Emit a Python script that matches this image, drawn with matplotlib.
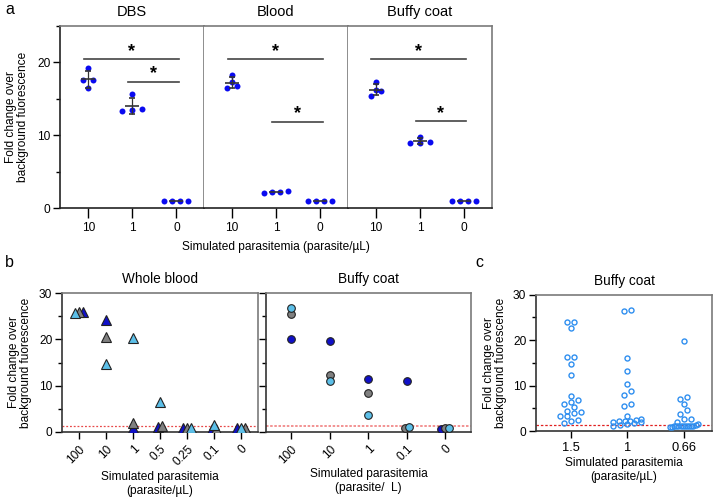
import numpy as np
import matplotlib
matplotlib.use('Agg')
import matplotlib.pyplot as plt
from matplotlib.ticker import MultipleLocator

plt.rcParams['font.family'] = ['Liberation Sans', 'DejaVu Sans']

# ---- data: panel a (4 replicates per condition)
a_titles = ['DBS', 'Blood', 'Buffy coat']
a_cats = ['10', '1', '0']
a_data = [
    [[19.2, 17.6, 17.5, 16.4], [15.6, 13.3, 13.6, 13.4], [0.9, 1.0, 0.95, 1.0]],
    [[18.2, 17.3, 16.5, 16.7], [2.1, 2.3, 2.2, 2.2], [0.9, 1.0, 1.0, 1.0]],
    [[17.3, 16.2, 15.4, 16.0], [9.8, 9.0, 8.9, 8.9], [0.95, 1.0, 0.95, 1.0]],
]
# significance bars: (from, to, height)
a_sig = [
    [(0, 2, 20.4), (1, 2, 17.3)],
    [(0, 2, 20.4), (1, 2, 11.8)],
    [(0, 2, 20.4), (1, 2, 11.9)],
]

# ---- data: panel b
wb_cats = ['100', '10', '1', '0.5', '0.25', '0.1', '0']
wb_blue = [26.0, 24.2, 0.9, 1.0, 0.8, 0.6, 0.8]
wb_gray = [25.9, 20.4, 2.0, 1.2, 0.9, 0.7, 0.9]
wb_light = [25.6, 14.6, 20.3, 6.5, 0.9, 1.6, 0.8]

bc_cats = ['100', '10', '1', '0.1', '0']
bc_blue = [20.0, 19.6, 11.4, 10.9, 0.6]
bc_gray = [25.4, 12.4, 8.4, 0.9, 0.8]
bc_light = [26.8, 11.1, 3.6, 1.0, 0.8]

threshold = 1.3

# ---- data: panel c
c_cats = ['1.5', '1', '0.66']
c_vals = [
    [23.9, 24.1, 22.7, 16.3, 16.3, 14.7, 12.4, 7.8, 6.8, 6.3, 6.0, 5.2,
     4.3, 4.1, 3.9, 3.4, 3.2, 2.4, 2.3, 1.8],
    [26.5, 26.6, 16.0, 13.1, 10.4, 8.0, 8.7, 5.6, 6.0, 3.2, 2.7, 2.4,
     2.3, 2.2, 2.1, 2.0, 1.9, 1.8, 1.5, 1.4, 1.0],
    [19.7, 7.4, 7.1, 5.9, 4.6, 3.7, 2.7, 2.6, 2.0, 1.5, 1.3, 1.2, 1.1,
     1.0, 1.0, 1.1, 1.2, 1.0, 0.9, 1.0, 1.1, 1.0, 0.8],
]

BLUE = '#0a0af0'
DBLUE = '#1010c8'
GRAY = '#808080'
LBLUE = '#5cbfe8'
OBLUE = '#2f8ff0'
FS = 8.6

fig = plt.figure(figsize=(7.14, 4.97), dpi=100)


def swarm(ax, xc, ys, step_px, row_px, max_w=28):
    """Prism-like row swarm: points in the same y-row get spread horizontally."""
    ys = np.asarray(ys, float)
    pts = ax.transData.transform(np.column_stack([np.full(len(ys), xc), ys]))
    order = np.argsort(ys, kind='stable')
    rows, cur = [], [order[0]]
    for i in order[1:]:
        if pts[i, 1] - pts[cur[0], 1] < row_px:
            cur.append(i)
        else:
            rows.append(cur)
            cur = [i]
    rows.append(cur)
    xpx = pts[:, 0].copy()
    for row in rows:
        n = len(row)
        st = step_px if n < 2 else min(step_px, max_w / (n - 1))
        for k, i in enumerate(row):
            xpx[i] += (k - (n - 1) / 2) * st
    return ax.transData.inverted().transform(np.column_stack([xpx, pts[:, 1]]))[:, 0]


def style_ticks(ax):
    ax.tick_params(axis='both', which='major', direction='out', length=5, width=1,
                   labelsize=FS, pad=2)
    ax.tick_params(axis='both', which='minor', direction='out', length=3, width=1)


# ================= panel a
left, right, bot, top = 60, 491.5, 208, 25.7
w = (right - left) / 3
axes_a = []
for p in range(3):
    ax = fig.add_axes([(left + p * w) / 714, 1 - bot / 497, w / 714, (bot - top) / 497])
    ax.set_xlim(-0.64, 2.62)
    ax.set_ylim(0, 25)
    for s in ['top', 'right']:
        ax.spines[s].set_color('#7a7a7a')
        ax.spines[s].set_linewidth(1.2)
    ax.spines['bottom'].set_color('#222222')
    ax.spines['bottom'].set_linewidth(1.2)
    if p == 0:
        ax.spines['left'].set_color('#222222')
        ax.spines['left'].set_linewidth(1.2)
        ax.yaxis.set_major_locator(MultipleLocator(10))
        ax.yaxis.set_minor_locator(MultipleLocator(5))
        ax.set_ylabel('Fold change over\nbackground fuorescence', fontsize=FS, labelpad=6,
                      linespacing=1.0)
    else:
        ax.spines['left'].set_visible(False)
        ax.tick_params(axis='y', which='both', left=False, labelleft=False)
    ax.set_xticks(range(3))
    ax.set_xticklabels(a_cats)
    style_ticks(ax)
    ax.tick_params(axis='x', length=7, pad=3)
    ax.set_title(a_titles[p], fontsize=10.5, pad=7)

    for i, vals in enumerate(a_data[p]):
        xs = swarm(ax, i, vals, 10, 5, max_w=24)
        ax.plot(xs, vals, 'o', color=BLUE, ms=4.3, mew=0, zorder=3)
        m, sd = np.mean(vals), np.std(vals, ddof=1)
        if sd > 0.2:
            ax.errorbar(i, m, yerr=sd, fmt='_', color='#333333', ms=10, mew=1.2,
                        elinewidth=0.9, capsize=2.5, capthick=0.9, zorder=4)
        else:
            ax.plot(i, m, '_', color='#333333', ms=10, mew=1.2, zorder=4)

    for (i, j, h) in a_sig[p]:
        x0, x1 = i - 0.1, j + 0.05
        ax.plot([x0, x1], [h, h], color='#444444', lw=1.2, zorder=2)
        ax.annotate('*', xy=((x0 + x1) / 2, h), xytext=(0, 2.5), textcoords='offset points',
                    ha='center', va='baseline', fontsize=13, fontweight='bold')
    axes_a.append(ax)

fig.text(275.5 / 714, 1 - 247 / 497, 'Simulated parasitemia (parasite/\u00b5L)',
         ha='center', va='center', fontsize=FS)


# ================= panel b
def frame(ax):
    for s in ['left', 'bottom']:
        ax.spines[s].set_color('#333333')
        ax.spines[s].set_linewidth(1.2)
    for s in ['top', 'right']:
        ax.spines[s].set_color('#7a7a7a')
        ax.spines[s].set_linewidth(1.2)


def scatter_groups(ax, cats, series, marker, ms):
    n = len(cats)
    xs_all = []
    for i in range(n):
        vals = [s[i] for s, _ in series]
        xs_all.append(swarm(ax, i, vals, 4, 3, max_w=8))
    for k, (s, col) in enumerate(series):
        xs = [xs_all[i][k] for i in range(n)]
        ax.plot(xs, s, marker, color=col, ms=ms, mec='#222222', mew=0.8, ls='none',
                zorder=3 + k)


bl = fig.add_axes([62 / 714, 1 - 432 / 497, 196 / 714, 139 / 497])
bl.set_xlim(-0.63, len(wb_cats) - 1 + 0.63)
bl.set_ylim(0, 30)
frame(bl)
bl.set_xticks(range(len(wb_cats)))
bl.set_xticklabels(wb_cats, rotation=45, ha='right', rotation_mode='anchor')
bl.yaxis.set_major_locator(MultipleLocator(10))
bl.yaxis.set_minor_locator(MultipleLocator(5))
style_ticks(bl)
bl.tick_params(axis='x', pad=3)
bl.axhline(threshold, color='#e84848', ls=(0, (1.5, 1.5)), lw=0.9, zorder=2)
scatter_groups(bl, wb_cats, [(wb_blue, DBLUE), (wb_gray, GRAY), (wb_light, LBLUE)], '^', 6.5)
bl.set_title('Whole blood', fontsize=9.8, pad=7)
bl.set_ylabel('Fold change over\nbackground fuorescence', fontsize=FS, labelpad=5,
              linespacing=1.0)
bl.set_xlabel('Simulated parasitemia\n(parasite/\u00b5L)', fontsize=FS, labelpad=2,
              linespacing=1.2)

br = fig.add_axes([266 / 714, 1 - 432 / 497, 205 / 714, 139 / 497])
br.set_xlim(-0.65, len(bc_cats) - 1 + 0.67)
br.set_ylim(0, 30)
frame(br)
br.set_xticks(range(len(bc_cats)))
br.set_xticklabels(bc_cats, rotation=45, ha='right', rotation_mode='anchor')
br.yaxis.set_major_locator(MultipleLocator(10))
br.yaxis.set_minor_locator(MultipleLocator(5))
style_ticks(br)
br.tick_params(axis='x', pad=3)
br.tick_params(axis='y', labelleft=False)
br.axhline(threshold, color='#f08080', ls=(0, (1.5, 1.0)), lw=1.2, zorder=2)
scatter_groups(br, bc_cats, [(bc_blue, DBLUE), (bc_gray, GRAY), (bc_light, LBLUE)], 'o', 5.5)
br.set_title('Buffy coat', fontsize=9.8, pad=7)
br.set_xlabel('Simulated parasitemia\n(parasite/  L)', fontsize=FS, labelpad=2,
              linespacing=1.2)

# ================= panel c
cx = fig.add_axes([536 / 714, 1 - 431 / 497, 176 / 714, 136.3 / 497])
cx.set_xlim(-0.62, len(c_cats) - 1 + 0.5)
cx.set_ylim(0, 30)
frame(cx)
cx.set_xticks(range(len(c_cats)))
cx.set_xticklabels(c_cats)
cx.yaxis.set_major_locator(MultipleLocator(10))
cx.yaxis.set_minor_locator(MultipleLocator(5))
style_ticks(cx)
cx.tick_params(axis='x', labelsize=9.3, pad=3)
cx.axhline(threshold, color='#e02020', ls=(0, (2, 1.5)), lw=0.9, zorder=2)
for i, vals in enumerate(c_vals):
    xs = swarm(cx, i, vals, 7, 4.5, max_w=28)
    cx.plot(xs, vals, 'o', mfc='none', mec=OBLUE, ms=3.6, mew=1.0, ls='none', zorder=3)
cx.set_title('Buffy coat', fontsize=9.8, pad=7)
cx.set_ylabel('Fold change over\nbackground fuorescence', fontsize=FS, labelpad=4,
              linespacing=1.0)
cx.set_xlabel('Simulated parasitemia\n(parasite/\u00b5L)', fontsize=FS, labelpad=2,
              linespacing=1.2)

# panel letters
fig.text(5 / 714, 1 - 2 / 497, 'a', fontsize=11.5, va='top')
fig.text(5 / 714, 1 - 255 / 497, 'b', fontsize=11.5, va='top')
fig.text(475 / 714, 1 - 255 / 497, 'c', fontsize=11.5, va='top')

fig.savefig('out.png', dpi=100)
